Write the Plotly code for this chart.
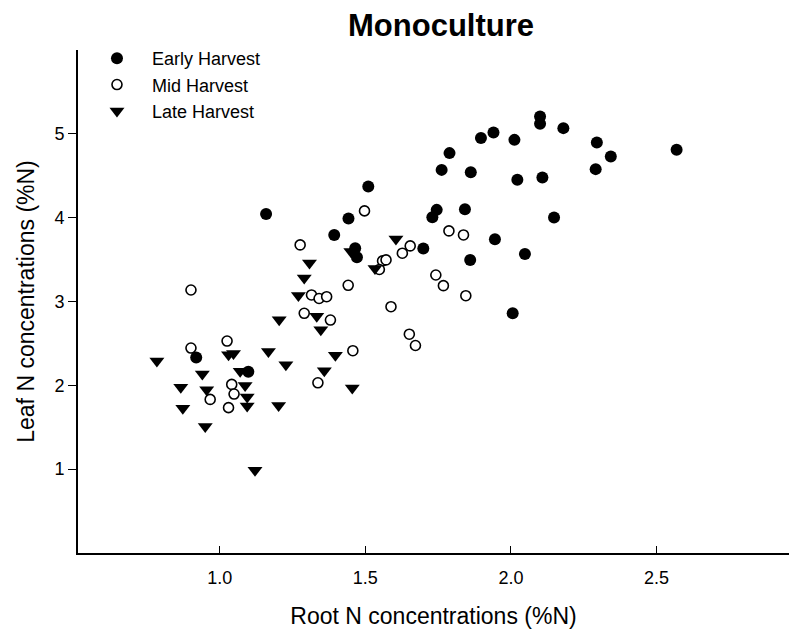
import plotly.graph_objects as go

# Root and leaf N concentrations (%N) per harvest date, monoculture plots
early_root = [1.159, 1.510, 1.442, 1.393, 1.465, 1.471, 1.699, 1.730, 1.745, 1.789,
              1.762, 1.862, 1.842, 1.897, 1.940, 2.012, 2.100, 2.100, 2.180, 2.022,
              2.108, 2.295, 2.343, 2.291, 2.148, 1.945, 2.048, 1.860, 2.006, 2.569,
              0.919, 1.098]
early_leaf = [4.045, 4.371, 3.991, 3.794, 3.635, 3.528, 3.633, 4.005, 4.093, 4.770,
              4.570, 4.543, 4.101, 4.949, 5.016, 4.928, 5.207, 5.119, 5.068, 4.451,
              4.478, 4.896, 4.729, 4.579, 4.001, 3.743, 3.567, 3.496, 2.859, 4.809,
              2.331, 2.162]

mid_root = [0.901, 0.901, 1.025, 0.967, 1.030, 1.041, 1.049, 1.276, 1.497, 1.654,
            1.627, 1.559, 1.571, 1.548, 1.441, 1.315, 1.341, 1.367, 1.290, 1.380,
            1.588, 1.651, 1.672, 1.457, 1.337, 1.787, 1.837, 1.742, 1.768, 1.845]
mid_leaf = [3.137, 2.445, 2.528, 1.832, 1.734, 2.011, 1.896, 3.675, 4.081, 3.663,
            3.576, 3.484, 3.496, 3.382, 3.193, 3.078, 3.036, 3.057, 2.859, 2.779,
            2.938, 2.610, 2.475, 2.413, 2.030, 3.842, 3.794, 3.316, 3.189, 3.069]

late_root = [0.784, 0.866, 0.873, 0.950, 0.940, 0.955, 1.030, 1.047, 1.167, 1.227,
             1.070, 1.087, 1.094, 1.094, 1.202, 1.204, 1.121, 1.308, 1.290, 1.270,
             1.333, 1.347, 1.397, 1.359, 1.455, 1.450, 1.533, 1.605]
late_leaf = [2.290, 1.976, 1.728, 1.510, 2.134, 1.947, 2.365, 2.379, 2.405, 2.245,
             2.167, 1.997, 1.860, 1.752, 1.758, 2.783, 0.988, 3.460, 3.281, 3.072,
             2.823, 2.663, 2.358, 2.174, 1.967, 3.597, 3.394, 3.746]

x_ticks = [1.0, 1.5, 2.0, 2.5]
y_ticks = [1, 2, 3, 4, 5]

FONT = "Liberation Sans, Arial, Helvetica, sans-serif"

fig = go.Figure()
fig.add_trace(go.Scatter(
    x=early_root, y=early_leaf, mode="markers", name="Early Harvest",
    marker=dict(symbol="circle", size=12, color="black",
                line=dict(width=0))))
fig.add_trace(go.Scatter(
    x=mid_root, y=mid_leaf, mode="markers", name="Mid Harvest",
    marker=dict(symbol="circle", size=10, color="white",
                line=dict(width=1.6, color="black"))))
fig.add_trace(go.Scatter(
    x=late_root, y=late_leaf, mode="markers", name="Late Harvest",
    marker=dict(symbol="triangle-down", size=13, color="black",
                line=dict(width=0))))

fig.update_layout(
    width=789, height=634,
    margin=dict(l=78, r=0, t=50, b=81),
    paper_bgcolor="white", plot_bgcolor="white",
    font=dict(family=FONT, color="black"),
    title=dict(text="<b>Monoculture</b>", font=dict(size=31, family=FONT),
               x=0.559, xref="container", xanchor="center",
               y=0.96, yref="container", yanchor="middle"),
    showlegend=True,
    legend=dict(x=0.0056, y=1.02, xanchor="left", yanchor="top",
                font=dict(size=18, family=FONT), bgcolor="rgba(0,0,0,0)",
                itemwidth=60, tracegroupgap=0, itemsizing="trace"),
)

fig.update_xaxes(
    range=[0.513, 2.955], tickvals=x_ticks, tickformat=".1f",
    ticks="inside", ticklen=7, tickwidth=1.3, tickcolor="black",
    showline=True, linewidth=1.6, linecolor="black", mirror=False,
    showgrid=False, zeroline=False,
    tickfont=dict(size=18), ticklabelstandoff=8,
    title=dict(text="Root N concentrations (%N)", font=dict(size=23), standoff=20))

fig.update_yaxes(
    range=[0, 6], tickvals=y_ticks,
    ticks="outside", ticklen=8, tickwidth=1.3, tickcolor="black",
    showline=True, linewidth=1.6, linecolor="black", mirror=False,
    showgrid=False, zeroline=False,
    tickfont=dict(size=18),
    title=dict(text="Leaf N concentrations (%N)", font=dict(size=23), standoff=14))

fig.write_html("out.html")
